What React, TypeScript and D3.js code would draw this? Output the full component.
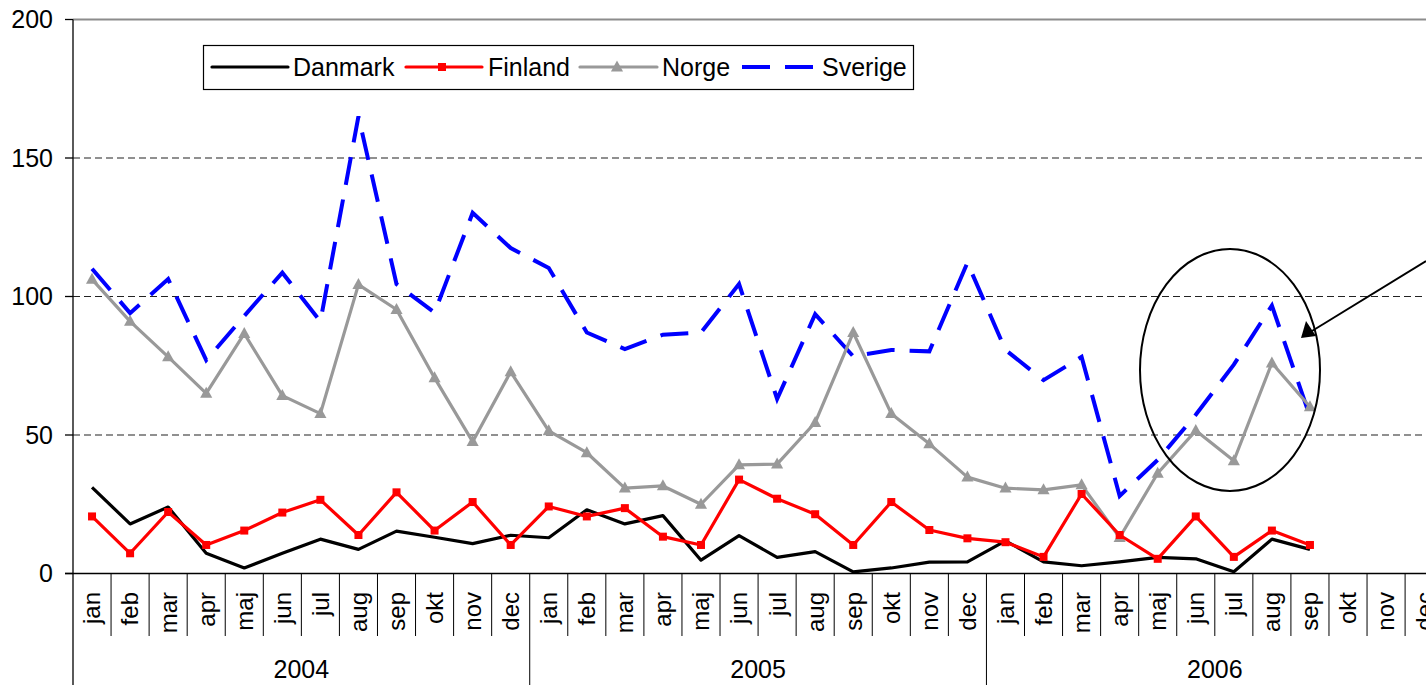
import React from "react";
import * as d3 from "d3";

const months = ["jan","feb","mar","apr","maj","jun","jul","aug","sep","okt","nov","dec"];
const years = ["2004","2005","2006"];
const yTicks = [0, 50, 100, 150, 200];

const danmark = [31.1,17.9,24.0,7.3,2.0,7.3,12.4,8.7,15.3,13.1,10.8,13.8, 12.9,23.0,17.9,20.9,4.8,13.7,5.8,7.9,0.6,2.0,4.1,4.2, 11.8,4.2,2.8,4.2,5.8,5.3,0.6,12.4,8.7];
const finland = [20.6,7.3,22.2,10.3,15.5,22.0,26.6,13.9,29.3,15.5,25.8,10.3, 24.2,20.6,23.6,13.3,10.3,33.9,27.0,21.4,10.3,25.8,15.7,12.7, 11.3,6.0,28.7,13.9,5.3,20.6,6.0,15.5,10.3];
const norge = [106.2,91.0,78.2,65.0,86.6,64.2,57.7,104.3,95.3,70.6,47.6,72.8, 51.5,43.6,30.8,31.6,25.0,39.2,39.5,54.5,87.0,57.7,46.8,34.8, 30.8,30.2,32.0,13.0,36.2,51.6,40.7,76.0,60.2];
const sverige = [110.0,94.0,106.3,77.0,93.0,108.6,91.0,165.0,104.5,94.2,130.2,117.5, 110.3,87.0,81.0,86.2,87.0,104.5,63.0,93.6,78.4,80.7,80.2,112.2, 80.7,69.8,78.2,28.0,41.0,57.3,75.4,96.7,56.7];

const FONT = "'Liberation Sans', Arial, Helvetica, sans-serif";

export default function App() {
  const W = 1426, H = 685;
  const left = 73, band = 38.06;
  const cats = d3.range(36);
  const x = d3.scaleBand<number>().domain(cats).range([left, left + 36 * band]).padding(0);
  const y = d3.scaleLinear().domain([0, 200]).range([573.5, 19.5]);
  const right = left + 36 * band;
  const cx = (i: number) => (x(i) as number) + band / 2;

  const line = d3.line<number>().x((_, i) => cx(i)).y((d) => y(d));

  const legendY = 67;
  const FS = 25;

  const tri = (px: number, py: number, s: number) =>
    `M${px},${py - s * 0.6} L${px + s * 0.55},${py + s * 0.4} L${px - s * 0.55},${py + s * 0.4} Z`;

  return (
    <svg width={W} height={H} style={{ position: "absolute", left: 0, top: 0, background: "#fff" }} fontFamily={FONT}>
      <rect x={0} y={0} width={W} height={H} fill="#fff" />
      {/* top border */}
      <line x1={left} x2={right} y1={y(200)} y2={y(200)} stroke="#8c8c8c" strokeWidth={2} />
      {/* gridlines */}
      {[50, 100, 150].map((t) => (
        <line key={t} x1={left} x2={right} y1={y(t)} y2={y(t)} stroke="#222" strokeWidth={1.2} strokeDasharray="7,4" />
      ))}
      {/* y axis */}
      <line x1={left} x2={left} y1={y(200)} y2={H} stroke="#000" strokeWidth={1.3} />
      {yTicks.map((t) => (
        <g key={t}>
          <line x1={65} x2={left} y1={y(t)} y2={y(t)} stroke="#000" strokeWidth={1.3} />
          <text x={53} y={y(t)} dy="0.35em" textAnchor="end" fontSize={FS} fill="#000">{t}</text>
        </g>
      ))}
      {/* x axis */}
      <line x1={65} x2={right} y1={y(0)} y2={y(0)} stroke="#000" strokeWidth={1.5} />
      {cats.map((i) => (
        <line key={"d" + i} x1={(x(i) as number) + band} x2={(x(i) as number) + band} y1={y(0)} y2={i % 12 === 11 ? H : 636} stroke="#000" strokeWidth={1} />
      ))}
      {cats.map((i) => (
        <text key={"m" + i} transform={`translate(${cx(i)},592) rotate(-90)`} textAnchor="end" dy="0.35em" fontSize={FS - 1} fill="#000">
          {months[i % 12]}
        </text>
      ))}
      {years.map((yr, k) => (
        <text key={yr} x={left + (k * 12 + 6) * band} y={678} textAnchor="middle" fontSize={FS} fill="#000">{yr}</text>
      ))}

      {/* series */}
      <path d={line(sverige) || ""} fill="none" stroke="#0000ff" strokeWidth={4} strokeDasharray="28,15" />
      <path d={line(norge) || ""} fill="none" stroke="#999999" strokeWidth={3.2} strokeLinejoin="round" />
      {norge.map((v, i) => (
        <path key={"n" + i} d={tri(cx(i), y(v), 11)} fill="#999999" />
      ))}
      <path d={line(danmark) || ""} fill="none" stroke="#000" strokeWidth={3.2} strokeLinejoin="round" />
      <path d={line(finland) || ""} fill="none" stroke="#ff0000" strokeWidth={3.2} strokeLinejoin="round" />
      {finland.map((v, i) => (
        <rect key={"f" + i} x={cx(i) - 4} y={y(v) - 4} width={8} height={8} fill="#ff0000" />
      ))}

      {/* annotation ellipse and arrow */}
      <ellipse cx={1230} cy={370} rx={90} ry={121} fill="none" stroke="#000" strokeWidth={2} />
      <line x1={1426} y1={261} x2={1312} y2={331} stroke="#000" strokeWidth={2} />
      <path d="M1301,338 L1306,321 L1316,336 Z" fill="#000" />

      {/* legend */}
      <rect x={203.5} y={45.5} width={710} height={44} fill="#fff" stroke="#000" strokeWidth={1.2} />
      <line x1={212} x2={288} y1={legendY} y2={legendY} stroke="#000" strokeWidth={3.2} strokeLinecap="round" />
      <text x={293} y={legendY} dy="0.35em" fontSize={FS}>Danmark</text>
      <line x1={406} x2={482} y1={legendY} y2={legendY} stroke="#ff0000" strokeWidth={3.2} strokeLinecap="round" />
      <rect x={438} y={legendY - 4} width={8} height={8} fill="#ff0000" />
      <text x={488} y={legendY} dy="0.35em" fontSize={FS}>Finland</text>
      <line x1={580} x2={657} y1={legendY} y2={legendY} stroke="#999999" strokeWidth={3.2} strokeLinecap="round" />
      <path d={tri(617, legendY, 11)} fill="#999999" />
      <text x={662} y={legendY} dy="0.35em" fontSize={FS}>Norge</text>
      <line x1={742} x2={813} y1={legendY} y2={legendY} stroke="#0000ff" strokeWidth={4} strokeDasharray="28,15" />
      <text x={822} y={legendY} dy="0.35em" fontSize={FS}>Sverige</text>
    </svg>
  );
}
